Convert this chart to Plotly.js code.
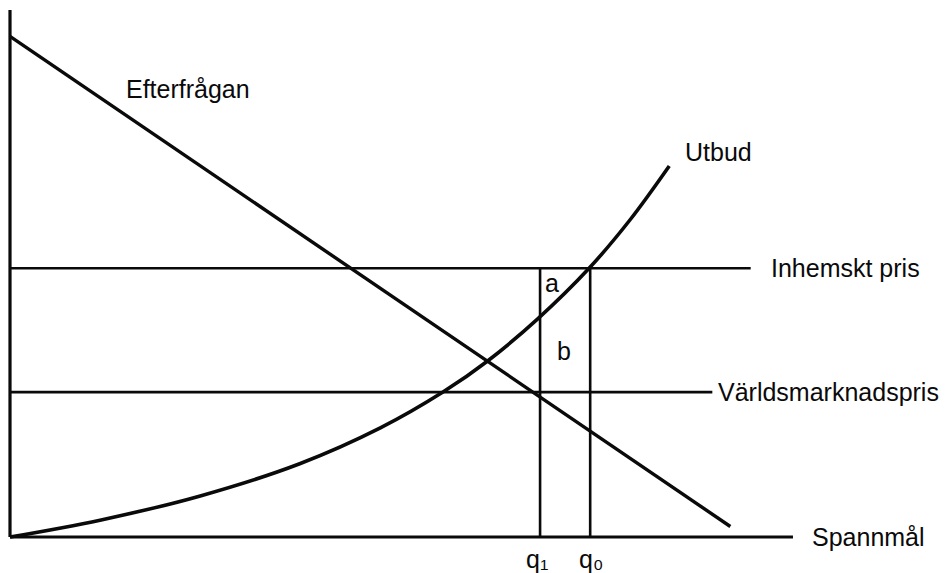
<!DOCTYPE html>
<html>
<head>
<meta charset="utf-8">
<script src="https://cdn.plot.ly/plotly-3.0.1.min.js"></script>
<style>
  html, body { margin: 0; padding: 0; background: #fff; }
  #chartDiv { width: 948px; height: 573px; }
</style>
</head>
<body>
<div id="chartDiv"></div>
<script>
// quantity on x (0..100), price on y (0..100)
const axisMax = 100;

const demandQ = [0, 92];
const demandP = [95, 2];

const supplyQ = [0, 11.5, 24.3, 37.0, 47.3, 55.3, 61.0, 67.4, 73.9, 79.2, 84.2];
const supplyP = [0, 3.2, 7.8, 13.9, 20.7, 27.5, 33.4, 41.4, 50.9, 60.2, 70.4];

const domesticPrice = 51;
const domesticEnd = 94.6;
const worldPrice = 27.5;
const worldEnd = 89.7;

const q1 = 67.7;
const q0 = 74.1;

const ink = "#0a0a0a";
const labelFont = { family: "'Liberation Sans', Arial, sans-serif", size: 25, color: ink };

function seg(x, y, w) {
  return {
    x: x, y: y, type: "scatter", mode: "lines",
    line: { color: ink, width: w },
    hoverinfo: "skip", showlegend: false
  };
}

const supplyTrace = seg(supplyQ, supplyP, 3.6);
supplyTrace.line.shape = "spline";
supplyTrace.line.smoothing = 1;

const traces = [
  seg([0, 0], [0, axisMax], 3.2),           // price axis
  seg([0, axisMax], [0, 0], 3.2),           // quantity axis
  seg([0, domesticEnd], [domesticPrice, domesticPrice], 2.6),
  seg([0, worldEnd], [worldPrice, worldPrice], 2.6),
  seg([q1, q1], [0, domesticPrice], 2.6),
  seg([q0, q0], [0, domesticPrice], 2.6),
  seg(demandQ, demandP, 3.4),
  supplyTrace
];

function label(text, x, y, xanchor) {
  return {
    text: text, x: x, y: y, xref: "x", yref: "y",
    xanchor: xanchor || "left", yanchor: "middle",
    showarrow: false, font: labelFont
  };
}

const layout = {
  width: 948,
  height: 573,
  margin: { l: 0, r: 0, t: 0, b: 0 },
  paper_bgcolor: "#fff",
  plot_bgcolor: "#fff",
  xaxis: { range: [-1.277, 119.8], visible: false, fixedrange: true },
  yaxis: { range: [-6.83, 101.9], visible: false, fixedrange: true },
  annotations: [
    label("Efterfrågan", 14.6, 85.0),
    label("Utbud", 86.0, 73.1),
    label("Inhemskt pris", 96.9, domesticPrice),
    label("Världsmarknadspris", 90.2, worldPrice),
    label("Spannmål", 102.2, 0),
    label("a", 69.2, 48.2, "center"),
    label("b", 70.8, 35.3, "center"),
    label("q₁", 67.3, -4.2, "center"),
    label("q₀", 74.2, -4.2, "center")
  ],
  showlegend: false
};

Plotly.newPlot("chartDiv", traces, layout, { displayModeBar: false, staticPlot: true });
</script>
</body>
</html>
